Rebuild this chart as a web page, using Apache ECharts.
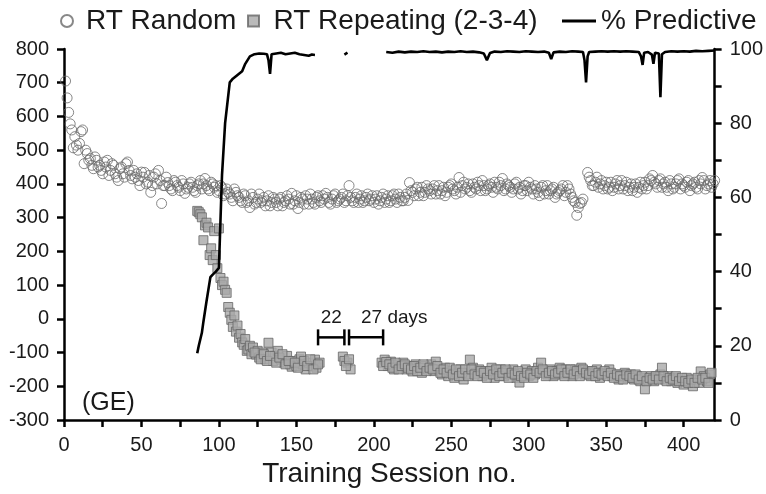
<!DOCTYPE html>
<html>
<head>
<meta charset="utf-8">
<script src="https://cdn.jsdelivr.net/npm/echarts@6/dist/echarts.min.js"></script>
<style>
  html, body { margin: 0; padding: 0; background: #fff; }
  #chart { width: 766px; height: 494px; }
</style>
</head>
<body>
<div id="chart"></div>
<script>
// Reaction time (ms) on random trials: [session, RT]
var randomRT = [
  [1,705],[2,655],[3,612],[4,578],[5,560],[6,507],[7,540],[8,515],[9,500],[10,520],
  [11,555],[12,560],[13,460],[14,500],[15,490],[16,470],[18,455],[20,480],[22,450],[24,440],
  [26,465],[28,470],[30,440],[32,455],[34,420],[36,445],[38,430],[40,460],[41,465],[43,425],
  [45,440],[46,420],[48,410],[50,435],[52,434],[54,405],[56,375],[58,420],[60,400],[61,440],
  [63,342],[65,395],[67,404],[69,385],[71,410],[73,395],[75,380],[77,400],[78,372],[80,390],
  [82,405],[84,380],[86,395],[88,410],[90,400],[91,416],[93,385],[95,405],[97,390],[98,395],
  [100,380],[102,389],[104,370],[106,375],[108,360],[110,385],[112,365],[114,350],[116,370],[118,345],
  [120,330],[122,360],[124,345],[126,370],[128,350],[130,335],[132,365],[134,345],[136,355],[138,335],
  [140,360],[142,345],[144,365],[146,340],[147,372],[149,350],[151,327],[153,360],[155,340],[157,355],
  [159,370],[161,345],[163,360],[165,350],[167,365],[169,372],[171,345],[173,355],[175,370],[177,350],
  [179,360],[181,345],[183,365],[184,395],[186,350],[188,360],[190,345],[192,365],[194,350],[196,370],
  [198,355],[200,345],[202,365],[204,350],[206,370],[208,355],[210,345],[212,365],[214,355],[216,370],
  [218,350],[220,360],[222,351],[223,404],[225,375],[227,385],[229,365],[231,390],[233,375],[235,385],
  [237,370],[239,395],[241,380],[243,370],[245,390],[247,375],[249,395],[251,385],[253,370],[255,419],
  [257,395],[259,385],[261,400],[263,375],[265,390],[267,405],[269,380],[271,395],[273,385],[275,400],
  [277,375],[279,390],[281,405],[283,416],[285,385],[287,395],[289,375],[291,400],[293,385],[295,370],
  [297,395],[299,380],[301,390],[303,370],[305,385],[307,365],[309,395],[311,380],[313,370],[315,385],
  [317,360],[319,375],[321,385],[323,365],[325,395],[327,370],[329,350],[330,345],[331,307],[333,342],
  [335,355],[338,434],[340,410],[342,395],[344,420],[346,400],[348,385],[350,405],[352,390],[354,380],
  [356,400],[358,385],[360,410],[362,395],[364,380],[366,400],[368,390],[370,375],[372,405],[374,395],
  [376,385],[378,415],[380,425],[382,400],[384,410],[386,390],[388,405],[390,380],[392,400],[394,390],
  [396,410],[398,385],[400,395],[402,405],[404,380],[406,400],[408,390],[410,410],[412,419],[414,385],
  [416,400],[418,390],[420,410]
];

// Random-trial RT for the remaining sessions: [session, RT]
var randomRTMore = [
  [17,475],[19,445],[21,470],[23,455],[25,430],[27,450],[29,425],[31,460],[33,430],[35,410],
  [37,450],[39,420],[42,440],[44,415],[47,430],[49,395],[51,420],[53,400],[55,425],[57,395],
  [59,430],[62,410],[64,395],[66,420],[68,395],[70,380],[72,405],[74,390],[76,410],[79,385],
  [81,400],[83,390],[85,375],[87,400],[89,385],[92,395],[94,380],[96,400],[99,375],[101,395],
  [103,365],[105,385],[107,370],[109,350],[111,375],[113,360],[115,345],[117,365],[119,350],[121,370],
  [123,340],[125,355],[127,345],[129,360],[131,350],[133,335],[135,360],[137,345],[139,355],[141,335],
  [143,350],[145,355],[148,340],[150,365],[152,345],[154,355],[156,365],[158,340],[160,355],[162,340],
  [164,365],[166,345],[168,355],[170,360],[172,340],[174,365],[176,345],[178,355],[180,370],[182,350],
  [185,360],[187,345],[189,370],[191,355],[193,345],[195,360],[197,350],[199,365],[201,355],[203,340],
  [205,360],[207,345],[209,365],[211,350],[213,370],[215,345],[217,360],[219,350],[221,370],[224,380],
  [226,365],[228,390],[230,375],[232,365],[234,395],[236,380],[238,385],[240,370],[242,395],[244,380],
  [246,365],[248,390],[250,400],[252,380],[254,390],[256,375],[258,405],[260,390],[262,380],[264,400],
  [266,385],[268,395],[270,410],[272,380],[274,395],[276,390],[278,405],[280,385],[282,395],[284,380],
  [286,400],[288,390],[290,385],[292,405],[294,390],[296,380],[298,395],[300,405],[302,385],[304,395],
  [306,375],[308,390],[310,370],[312,395],[314,380],[316,390],[318,370],[320,380],[322,395],[324,375],
  [326,385],[328,360],[332,330],[334,345],[339,420],[341,395],[343,405],[345,390],[347,410],[349,395],
  [351,385],[353,405],[355,390],[357,410],[359,395],[361,385],[363,405],[365,390],[367,380],[369,400],
  [371,390],[373,385],[375,405],[377,395],[379,410],[381,405],[383,390],[385,415],[387,400],[389,390],
  [391,410],[393,385],[395,400],[397,415],[399,400],[401,390],[403,410],[405,395],[407,405],[409,385],
  [411,400],[413,410],[415,395],[417,410],[419,400]
];

// Reaction time (ms) on the repeating 2-3-4 sequence: [session, RT]
var repeatingRT = [
  [86,320],[87,316],[88,310],[89,301],[90,233],[91,277],[92,285],[93,271],[94,189],[95,209],
  [96,174],[97,260],[98,189],[99,150],[100,268],[101,121],[102,100],[103,110],[104,86],[105,77],
  [106,35],[107,18],[108,-3],[109,-24],[110,10],[111,-38],[112,-20],[113,-56],[114,-45],[115,-70],
  [116,-77],[117,-60],[118,-95],[119,-91],[120,-80],[121,-105],[122,-85],[124,-106],[125,-95],[126,-115],
  [128,-100],[130,-120],[132,-71],[134,-100],[135,-125],[136,-110],[138,-95],[140,-121],[142,-130],[144,-110],
  [146,-135],[147,-142],[148,-125],[150,-140],[152,-120],[153,-112],[154,-135],[156,-150],[158,-130],[160,-140],
  [162,-121],[163,-145],[165,-130],
  [180,-112],[183,-130],[185,-150],
  [205,-130],[207,-121],[209,-140],[211,-127],[213,-150],[215,-135],[217,-145],[219,-130],[221,-150],[223,-140],
  [225,-156],[227,-135],[229,-145],[231,-160],[233,-140],[235,-150],[237,-135],[239,-155],[240,-127],[242,-150],
  [244,-165],[246,-145],[248,-170],[250,-155],[252,-175],[254,-160],[256,-150],[258,-180],[260,-165],[262,-121],
  [264,-145],[266,-160],[268,-150],[270,-170],[272,-155],[274,-165],[276,-145],[278,-175],[280,-160],[282,-150],
  [284,-170],[286,-155],[288,-165],[290,-150],[292,-175],[294,-189],[296,-160],[298,-150],[300,-170],[302,-155],
  [304,-165],[306,-145],[308,-130],[310,-155],[312,-165],[314,-150],[316,-170],[318,-155],[320,-145],[322,-165],
  [324,-150],[326,-160],[328,-170],[330,-150],[332,-160],[334,-145],[336,-165],[338,-155],[340,-170],[342,-160],
  [344,-150],[346,-175],[348,-160],[350,-165],[352,-150],[354,-170],[356,-165],[358,-180],[360,-170],[362,-160],
  [364,-175],[366,-165],[368,-180],[370,-170],[372,-185],[374,-175],[375,-209],[377,-180],[379,-170],[381,-185],
  [383,-175],[385,-165],[386,-145],[388,-180],[390,-170],[392,-185],[394,-175],[396,-190],[398,-180],[400,-195],
  [402,-175],[404,-185],[406,-200],[408,-180],[410,-190],[411,-156],[413,-170],[415,-185],[417,-165]
];

// Repeating-sequence RT for the remaining sessions: [session, RT]
var repeatingRTMore = [
  [123,-100],[127,-120],[129,-105],[131,-125],[133,-110],[137,-130],[139,-115],[141,-105],[143,-135],[145,-125],
  [149,-130],[151,-145],[155,-125],[157,-140],[159,-120],[161,-150],[164,-135],[181,-125],[182,-140],[184,-120],
  [206,-140],[208,-128],[210,-135],[212,-145],[214,-130],[216,-150],[218,-140],[220,-135],[222,-145],[224,-150],
  [226,-140],[228,-155],[230,-145],[232,-135],[234,-155],[236,-145],[238,-150],[241,-140],[243,-160],[245,-150],
  [247,-160],[249,-145],[251,-165],[253,-150],[255,-170],[257,-160],[259,-150],[261,-170],[263,-150],[265,-165],
  [267,-170],[269,-155],[271,-160],[273,-175],[275,-155],[277,-165],[279,-150],[281,-170],[283,-160],[285,-150],
  [287,-175],[289,-160],[291,-165],[293,-155],[295,-170],[297,-175],[299,-160],[301,-165],[303,-175],[305,-155],
  [307,-160],[309,-150],[311,-170],[313,-160],[315,-155],[317,-165],[319,-160],[321,-150],[323,-170],[325,-160],
  [327,-150],[329,-165],[331,-155],[333,-170],[335,-150],[337,-160],[339,-165],[341,-155],[343,-170],[345,-160],
  [347,-165],[349,-155],[351,-170],[353,-160],[355,-175],[357,-165],[359,-170],[361,-180],[363,-165],[365,-170],
  [367,-175],[369,-165],[371,-180],[373,-170],[376,-185],[378,-175],[380,-180],[382,-170],[384,-180],[387,-170],
  [389,-185],[391,-175],[393,-180],[395,-170],[397,-185],[399,-175],[401,-185],[403,-190],[405,-180],[407,-190],
  [409,-175],[412,-180],[414,-175],[416,-190],[418,-160]
];

// Percentage of predictive responses: [session, %]; '-' marks breaks in training
var predictivePct = [
  [86,18],[87,20],[89,23.5],[90,26.5],[92,32],[94.5,38.5],[96,39.2],[98,40],[100,41],[101.5,60],
  [102,66],[104,80],[107,91],[109,92],[112,93],[115,94],[117,96],[120,98],[123,98.6],[126,98.8],
  [129,98.7],[131,98.6],[132,97],[133,93.3],[134,98.6],[137,98.8],[140,99],[143,98.6],[146,98.8],[149,99],
  [152,98.6],[155,98.4],[158,98.2],[160,98.5],[162,98.4],
  ['-','-'],
  [181,98.5],[183,99],
  ['-','-'],
  [208,99.2],[212,99],[216,99.3],[220,99.1],[224,99.3],[228,99.2],[232,99.4],[236,99.2],[240,99.3],[244,99.1],
  [248,99.3],[252,99.2],[256,99.4],[260,99.2],[264,99.3],[268,99.1],[271,98.8],[273,97],[275,98.9],[278,99.3],
  [282,99.2],[286,99.4],[290,99.3],[294,99.2],[298,99.4],[302,99.3],[306,99.2],[310,99.3],[313,99],[314.5,97.3],
  [316,99.1],[320,99.3],[324,99.2],[328,99.4],[332,99.3],[335,99.2],[336,97],[337,91],[338,98],[339,99.2],
  [343,99.3],[347,99.4],[351,99.3],[355,99.4],[359,99.3],[363,99.4],[367,99.3],[371,99.2],[372.5,98],[373.5,95.7],
  [374.5,99],[377,99.2],[379.5,98.5],[380.5,96],[381.5,99],[384,98.8],[385,87],[386,98.6],[388,99.2],[392,99.4],
  [396,99.3],[400,99.4],[404,99.3],[408,99.5],[412,99.4],[416,99.5],[420,99.6]
];

// Breaks between training blocks: [from session, to session, RT level], with their labels
var breakSpans = [[164,181,-55],[184,206,-55]];
var breakLabels = ['22', '27 days'];

// Axis ranges and tick steps
var sessionRange = [0, 420], sessionStep = 25, sessionLabelStep = 50;
var rtRange = [-300, 800], rtStep = 100;
var pctRange = [0, 100], pctStep = 10, pctLabelStep = 20;

var FONT = 'Liberation Sans, Arial, Helvetica, sans-serif';
var INK = '#1a1a1a';

var axisLineStyle = { show: true, onZero: false, lineStyle: { color: '#000', width: 2.5 } };
var axisTickStyle = { show: true, inside: false, length: 7, lineStyle: { color: '#000', width: 2.5 } };

var chart = echarts.init(document.getElementById('chart'), null, { renderer: 'canvas' });

var legendText = { fontFamily: FONT, fontSize: 28, color: INK };

chart.setOption({
  animation: false,
  backgroundColor: '#fff',
  textStyle: { fontFamily: FONT },
  grid: { left: 64, right: 51, top: 49, bottom: 74, containLabel: false },
  title: {
    text: '(GE)', left: 77, top: 386,
    textStyle: { fontFamily: FONT, fontSize: 25, fontWeight: 'normal', color: INK }
  },
  legend: [
    { data: ['RT Random'], left: 55, top: 2, itemWidth: 28, itemHeight: 12, textStyle: legendText },
    {
      data: [{ name: 'RT Repeating (2-3-4)', icon: 'path://M0,0L10,0L10,10L0,10Z' }],
      left: 242, top: 2, itemWidth: 30, itemHeight: 11, symbolKeepAspect: true, textStyle: legendText
    },
    { data: [{ name: '% Predictive', icon: 'rect' }], left: 557, top: 2, itemWidth: 34, itemHeight: 3, textStyle: legendText }
  ],
  xAxis: {
    type: 'value', min: sessionRange[0], max: sessionRange[1], interval: sessionStep,
    name: 'Training Session no.', nameLocation: 'middle', nameGap: 35,
    nameTextStyle: { fontFamily: FONT, fontSize: 28, color: INK },
    axisLine: axisLineStyle, axisTick: axisTickStyle, splitLine: { show: false },
    axisLabel: {
      fontFamily: FONT, fontSize: 20, color: INK, margin: 15, showMaxLabel: false,
      formatter: function (v) { return v % sessionLabelStep === 0 ? String(v) : ''; }
    }
  },
  yAxis: [
    {
      type: 'value', min: rtRange[0], max: rtRange[1], interval: rtStep, position: 'left',
      axisLine: axisLineStyle, axisTick: axisTickStyle, splitLine: { show: false },
      axisLabel: { fontFamily: FONT, fontSize: 20, color: INK, margin: 15 }
    },
    {
      type: 'value', min: pctRange[0], max: pctRange[1], interval: pctStep, position: 'right',
      axisLine: axisLineStyle, axisTick: axisTickStyle, splitLine: { show: false },
      axisLabel: {
        fontFamily: FONT, fontSize: 20, color: INK, margin: 15,
        formatter: function (v) { return v % pctLabelStep === 0 ? String(v) : ''; }
      }
    }
  ],
  series: [
    {
      name: 'RT Random', type: 'scatter', xAxisIndex: 0, yAxisIndex: 0,
      symbol: 'circle', symbolSize: 10,
      itemStyle: { color: 'rgba(255,255,255,0)', borderColor: '#6a6a6a', borderWidth: 1 },
      data: randomRT.concat(randomRTMore)
    },
    {
      name: '% Predictive', type: 'line', xAxisIndex: 0, yAxisIndex: 1,
      symbol: 'none', showSymbol: false, connectNulls: false,
      lineStyle: { color: '#000', width: 2.6 }, itemStyle: { color: '#000' },
      data: predictivePct
    },
    {
      name: 'RT Repeating (2-3-4)', type: 'scatter', xAxisIndex: 0, yAxisIndex: 0,
      symbol: 'rect', symbolSize: 9,
      itemStyle: { color: '#a9a9a9', borderColor: '#666', borderWidth: 1 },
      data: repeatingRT.concat(repeatingRTMore)
    },
    {
      name: 'breaks', type: 'custom', xAxisIndex: 0, yAxisIndex: 0,
      data: breakSpans, silent: true,
      renderItem: function (params, api) {
        var a = api.coord([api.value(0), api.value(2)]);
        var b = api.coord([api.value(1), api.value(2)]);
        var h = 8;
        var st = { stroke: '#000', lineWidth: 2.5 };
        var label = breakLabels[params.dataIndex];
        var tx = params.dataIndex === 0 ? (a[0] + b[0]) / 2 : a[0] + 12;
        return {
          type: 'group',
          children: [
            { type: 'line', shape: { x1: a[0], y1: a[1], x2: b[0], y2: b[1] }, style: st },
            { type: 'line', shape: { x1: a[0], y1: a[1] - h, x2: a[0], y2: a[1] + h }, style: st },
            { type: 'line', shape: { x1: b[0], y1: b[1] - h, x2: b[0], y2: b[1] + h }, style: st },
            {
              type: 'text',
              style: {
                x: tx, y: a[1] - 10, text: label,
                textAlign: params.dataIndex === 0 ? 'center' : 'left', textVerticalAlign: 'bottom',
                font: '19px ' + FONT, fill: INK
              }
            }
          ]
        };
      }
    }
  ]
});
</script>
</body>
</html>
